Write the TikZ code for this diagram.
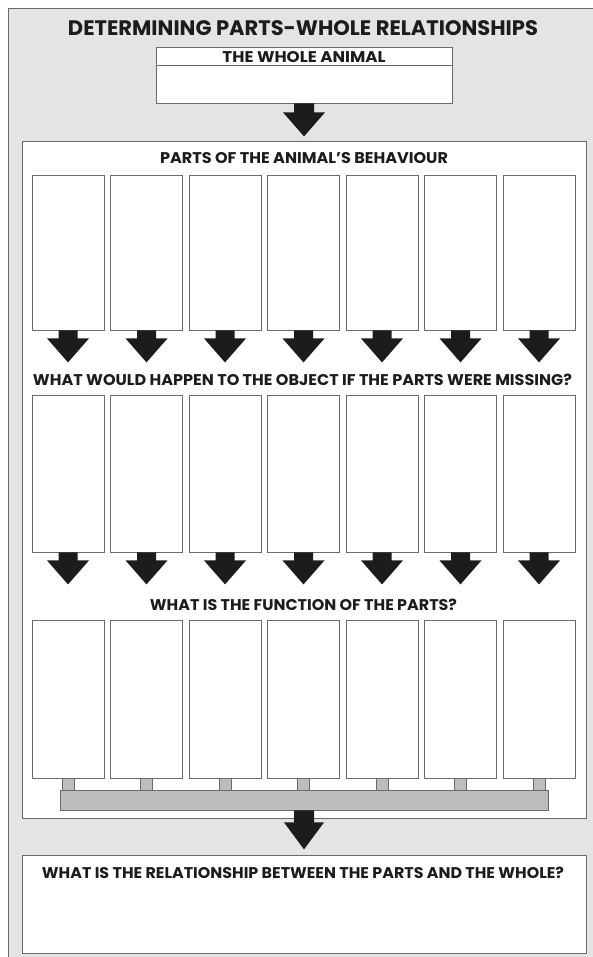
\documentclass[tikz,border=0pt]{standalone}
\usepackage{fontspec}
\setmainfont{Poppins}
\usetikzlibrary{calc}
\definecolor{panelgray}{HTML}{E4E4E4}
\definecolor{bargray}{HTML}{BDBDBD}
\definecolor{linegray}{HTML}{6A6A6A}
\definecolor{inkblack}{HTML}{1C1C1C}
\newcommand\fitw[2]{\resizebox{#1}{\height}{#2}}
% block arrow: #1 start point, #2 stem length, #3 head length, #4 half stem width, #5 half head width
\newcommand\blockarrow[5]{%
  \fill[inkblack] ($#1+(-#4,0)$) -- ++(0,#2) -- ++(#4-#5,0) -- ($#1+(0,#2+#3)$)
    -- ++(#5,-#3) -- ++(#4-#5,0) -- ++(0,-#2) -- cycle;}
\begin{document}
\begin{tikzpicture}[x=1pt,y=-1pt,
  box/.style={draw=linegray,line width=0.8pt,fill=white,inner sep=0pt},
  conn/.style={draw=linegray,line width=0.6pt,fill=bargray,inner sep=0pt,minimum width=12pt,minimum height=12pt},
  head/.style={inner sep=0pt,text=inkblack,font=\bfseries\fontsize{15.5}{16}\selectfont},
  title/.style={inner sep=0pt,text=inkblack,font=\bfseries\fontsize{21}{22}\selectfont}]
\useasboundingbox (0,0) rectangle (593,957);
\fill[white] (0,0) rectangle (593,957);
\draw[fill=panelgray,draw=linegray,line width=0.9pt] (8,8) rectangle (620,990);

\node[title] (title) at (303,28.5) {\fitw{470pt}{DETERMINING PARTS-WHOLE RELATIONSHIPS}};

\node[box,minimum width=296pt,minimum height=56pt] (whole) at (304,75) {};
\draw[linegray,line width=0.8pt] ($(whole.north west)+(0,19)$) -- ($(whole.north east)+(0,19)$);
\node[head] (wholet) at (304,57) {\fitw{163pt}{THE WHOLE ANIMAL}};

\node[box,minimum width=564pt,minimum height=677pt] (inner) at (304,479.5) {};
\blockarrow{(whole.south)}{9}{24}{10}{21}

\node[head] (h1) at (304,158) {\fitw{288pt}{PARTS OF THE ANIMAL'S BEHAVIOUR}};
\node[head] (h2) at (302.5,380) {\fitw{539pt}{WHAT WOULD HAPPEN TO THE OBJECT IF THE PARTS WERE MISSING?}};
\node[head] (h3) at (303.5,605) {\fitw{307pt}{WHAT IS THE FUNCTION OF THE PARTS?}};

\node[box,fill=bargray,minimum width=488pt,minimum height=20pt] (bar) at (304,800) {};

\foreach \i in {1,...,7} {
  \pgfmathsetmacro\cx{68+78.5*(\i-1)}
  \node[box,minimum width=72pt,minimum height=155pt] (a\i) at (\cx,252.5) {};
  \node[box,minimum width=72pt,minimum height=157pt] (b\i) at (\cx,473.5) {};
  \node[box,minimum width=72pt,minimum height=158pt] (c\i) at (\cx,699) {};
  \blockarrow{(a\i.south)}{8}{24}{9.5}{21}
  \blockarrow{(b\i.south)}{8}{24}{9.5}{21}
  \node[conn] (k\i) at ($(c\i.south)+(0,6)$) {};
}

\node[box,minimum width=564pt,minimum height=98pt] (final) at (304,904) {};
\node[head] (ft) at (303,873) {\fitw{522pt}{WHAT IS THE RELATIONSHIP BETWEEN THE PARTS AND THE WHOLE?}};
\blockarrow{(bar.south)}{12}{27}{10}{20}
\end{tikzpicture}
\end{document}
